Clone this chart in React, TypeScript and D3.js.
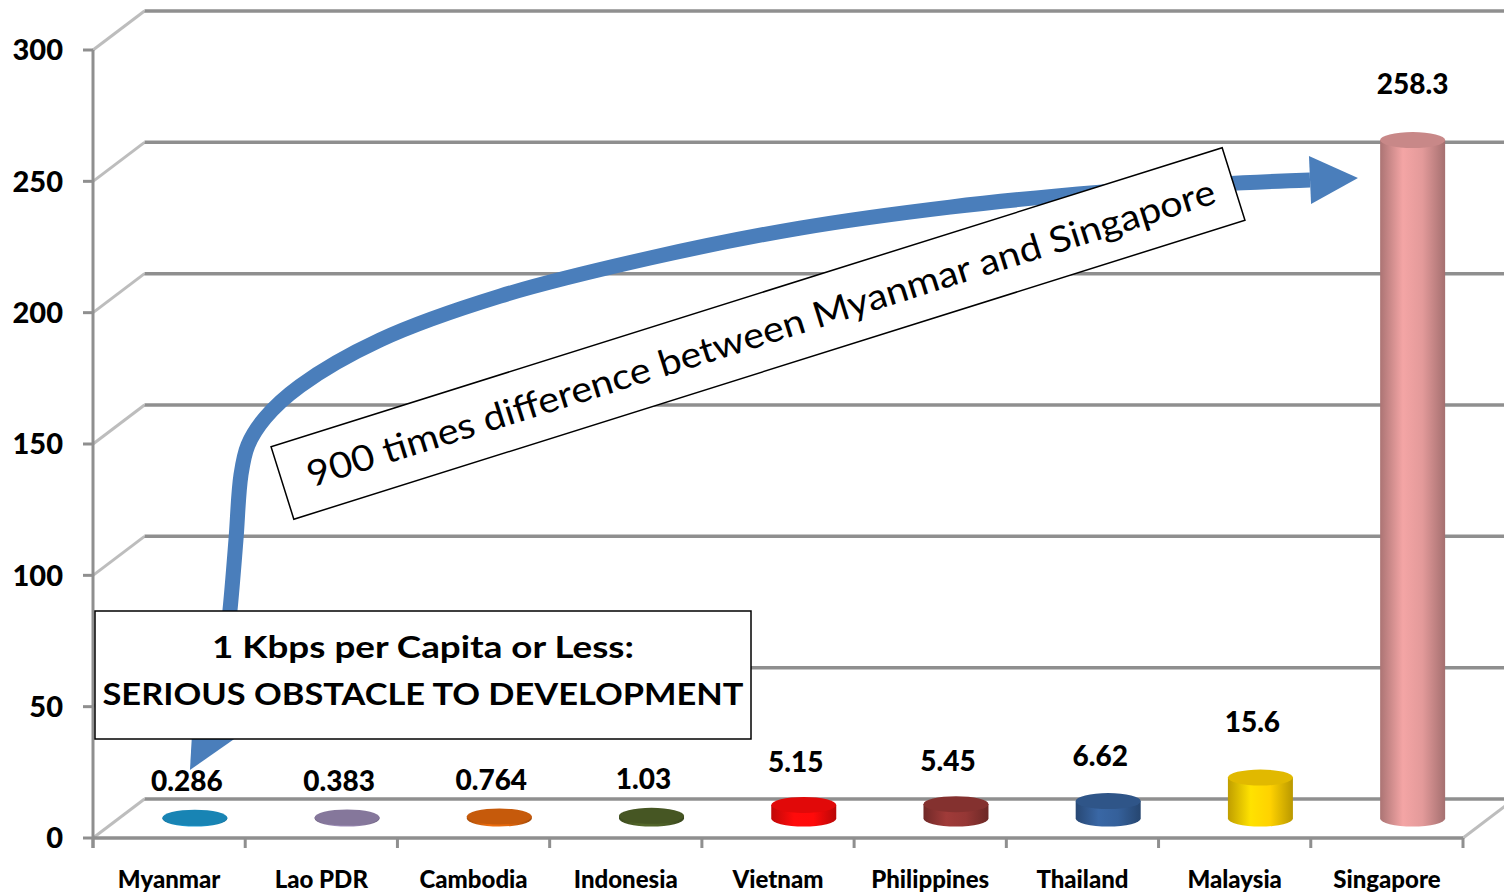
import React from 'react';
import * as d3 from 'd3';

// Bandwidth per capita (Kbps) — ASEAN countries
const categories = ['Myanmar', 'Lao PDR', 'Cambodia', 'Indonesia', 'Vietnam', 'Philippines', 'Thailand', 'Malaysia', 'Singapore'];
const values = [0.286, 0.383, 0.764, 1.03, 5.15, 5.45, 6.62, 15.6, 258.3];
const valueLabels = ['0.286', '0.383', '0.764', '1.03', '5.15', '5.45', '6.62', '15.6', '258.3'];
const barColors = ['#1b96cc', '#9787b0', '#e0660c', '#4f6228', '#ff0a0a', '#953735', '#35609a', '#ffd200', '#e39a9a'];
const yTicks = [0, 50, 100, 150, 200, 250, 300];

// arrow centreline, in [category position, value] units
const arrowLine: [number, number][] = [
  [0.795, 42.3], [0.847, 60.2], [0.9, 86.8], [0.939, 113.4], [0.972, 138.2],
  [1.018, 149.6], [1.13, 159.9], [1.36, 172.1], [1.885, 189.6], [2.674, 206.3],
  [3.659, 220.8], [4.645, 232.2], [5.63, 240.2], [6.615, 245.9], [7.404, 249.0], [7.995, 250.5],
];
const arrowTipEnd: [number, number] = [8.31, 251.3];
const arrowTipStart: [number, number] = [0.637, 25.9];

const W = 1504;
const H = 895;
const FONT = 'Lato, "Open Sans", sans-serif';

export default function App() {
  const left = 93;
  const right = 1463;
  const depthX = 51.5;
  const depthY = -39;

  const x = d3.scaleBand<string>().domain(categories).range([left, right]);
  const xPos = d3.scaleLinear().domain([0, categories.length]).range([left, right]);
  const y = d3.scaleLinear().domain([0, 300]).range([838, 50]);

  const rx = 32.5;
  const ry = 8;
  const y0 = y(0) + depthY / 2;

  const px = (p: [number, number]): [number, number] => [xPos(p[0]), y(p[1])];
  const linePath = d3.line().curve(d3.curveCatmullRom.alpha(0.5))(arrowLine.map(px)) || '';

  const head = (base: [number, number], tip: [number, number], half: number) => {
    const [bx, by] = px(base);
    const [tx, ty] = px(tip);
    const len = Math.hypot(tx - bx, ty - by);
    const nx = -(ty - by) / len;
    const ny = (tx - bx) / len;
    return `M${bx + nx * half},${by + ny * half}L${tx},${ty}L${bx - nx * half},${by - ny * half}Z`;
  };

  const gridGrey = '#8f8f8f';
  const sideGrey = '#bdbdbd';

  return (
    <svg width={W} height={H} style={{ position: 'absolute', left: 0, top: 0, background: '#fff' }} fontFamily={FONT}>
      <defs>
        {barColors.map((c, i) => {
          const base = d3.color(c)!;
          return (
            <linearGradient key={i} id={`cyl-${i}`} x1="0" x2="1" y1="0" y2="0">
              <stop offset="0%" stopColor={base.darker(0.8).formatHex()} />
              <stop offset="35%" stopColor={base.brighter(0.2).formatHex()} />
              <stop offset="65%" stopColor={base.formatHex()} />
              <stop offset="100%" stopColor={base.darker(0.9).formatHex()} />
            </linearGradient>
          );
        })}
      </defs>

      {/* back wall and left wall gridlines */}
      {yTicks.map(t => (
        <g key={t}>
          <line x1={left} y1={y(t)} x2={left + depthX} y2={y(t) + depthY} stroke={sideGrey} strokeWidth={3} />
          <line x1={left + depthX} y1={y(t) + depthY} x2={W + 20} y2={y(t) + depthY} stroke={gridGrey} strokeWidth={3.5} />
        </g>
      ))}
      {/* floor right edge */}
      <line x1={right} y1={y(0)} x2={right + depthX} y2={y(0) + depthY} stroke={sideGrey} strokeWidth={3} />

      {/* y axis */}
      <line x1={left} y1={y(300)} x2={left} y2={y(0) + 10} stroke={gridGrey} strokeWidth={3} />
      {yTicks.map(t => (
        <g key={t}>
          <line x1={left - 10} y1={y(t)} x2={left} y2={y(t)} stroke={gridGrey} strokeWidth={3} />
          <text x={63} y={y(t)} dy="0.36em" textAnchor="end" fontSize={29} fontWeight={900} fill="#000">{t}</text>
        </g>
      ))}

      {/* x axis */}
      <line x1={left} y1={y(0)} x2={right} y2={y(0)} stroke={gridGrey} strokeWidth={3.5} />
      {d3.range(categories.length + 1).map(i => (
        <line key={i} x1={xPos(i)} y1={y(0)} x2={xPos(i)} y2={y(0) + 10} stroke={gridGrey} strokeWidth={3} />
      ))}
      {categories.map(c => (
        <text key={c} x={x(c)! + x.bandwidth() / 2} y={888} textAnchor="middle" fontSize={24} fontWeight={900} fill="#000">{c}</text>
      ))}

      {/* cylinders */}
      {categories.map((c, i) => {
        const cx = x(c)! + x.bandwidth() / 2 + depthX / 2;
        const top = y(values[i]) + depthY / 2;
        const body = `M${cx - rx},${top}L${cx - rx},${y0}A${rx},${ry} 0 0 0 ${cx + rx},${y0}L${cx + rx},${top}Z`;
        const h = y0 - top;
        const labelY = top - (36 + Math.min(20, h * 0.5));
        const labelX = h > 100 ? cx : cx - 8;
        return (
          <g key={c}>
            <path d={body} fill={`url(#cyl-${i})`} />
            <ellipse cx={cx} cy={top} rx={rx} ry={ry} fill={d3.color(barColors[i])!.darker(0.35).formatHex()} />
            <text x={labelX} y={labelY} dy="0.36em" textAnchor="middle" fontSize={28} fontWeight={900} fill="#000">{valueLabels[i]}</text>
          </g>
        );
      })}

      {/* double-headed arrow */}
      <path d={linePath} fill="none" stroke="#4a7ebb" strokeWidth={15} />
      <path d={head(arrowLine[arrowLine.length - 1], arrowTipEnd, 24)} fill="#4a7ebb" />
      <path d={head(arrowLine[0], arrowTipStart, 24)} fill="#4a7ebb" />

      {/* callout box */}
      <rect x={95} y={611} width={656} height={128} fill="#fff" stroke="#000" strokeWidth={1.5} />
      <text x={423} y={658} textAnchor="middle" fontSize={31} fontWeight={700} fill="#000" textLength={422} lengthAdjust="spacingAndGlyphs">1 Kbps per Capita or Less:</text>
      <text x={423} y={705} textAnchor="middle" fontSize={31} fontWeight={700} fill="#000" textLength={641} lengthAdjust="spacingAndGlyphs">SERIOUS OBSTACLE TO DEVELOPMENT</text>

      {/* rotated comparison box */}
      <g transform="translate(758,333.5) rotate(-17.45)">
        <rect x={-498.5} y={-38} width={997} height={76} fill="#fff" stroke="#000" strokeWidth={1.5} />
        <text x={3} y={0} dy="0.36em" textAnchor="middle" fontSize={36} fill="#000" textLength={950} lengthAdjust="spacingAndGlyphs">900 times difference between Myanmar and Singapore</text>
      </g>
    </svg>
  );
}
